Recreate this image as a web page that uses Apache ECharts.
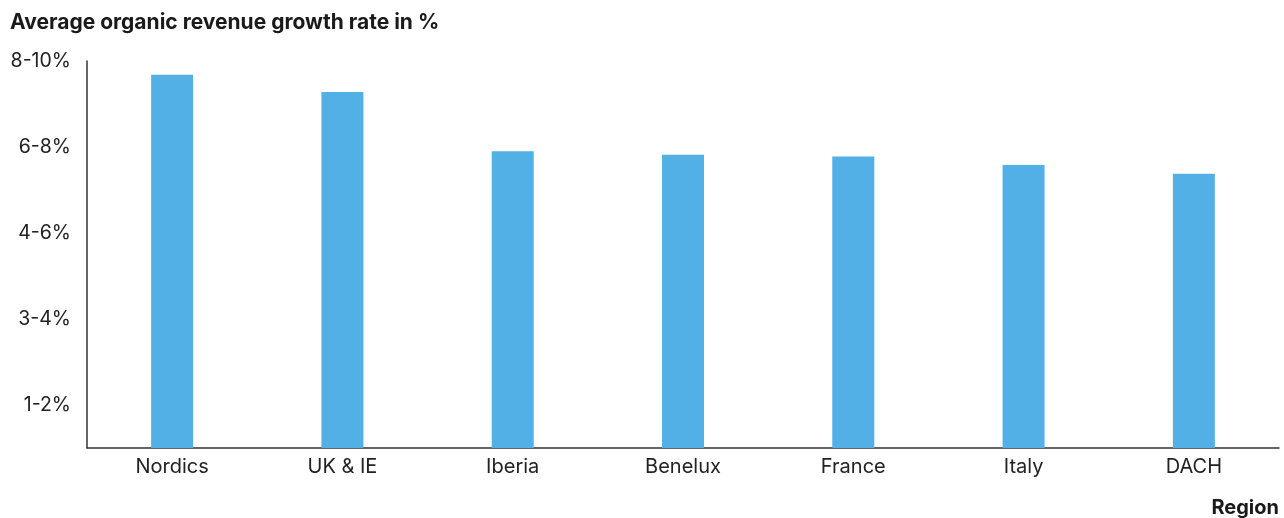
<!DOCTYPE html>
<html>
<head>
<meta charset="utf-8">
<script src="https://cdn.jsdelivr.net/npm/echarts@6/dist/echarts.min.js"></script>
<style>
  html, body { margin: 0; padding: 0; background: #ffffff; }
  #chart { width: 1284px; height: 518px; }
</style>
</head>
<body>
<div id="chart"></div>
<script>
// Regions and their average organic revenue growth (bucket scale: 0.5 = 1-2%, 1.5 = 3-4%, ...)
const regions = ['Nordics', 'UK & IE', 'Iberia', 'Benelux', 'France', 'Italy', 'DACH'];
const growth = [4.34, 4.14, 3.45, 3.41, 3.39, 3.29, 3.19];
const bucketTicks = [0.5, 1.5, 2.5, 3.5, 4.5];
const bucketLabels = ['1-2%', '3-4%', '4-6%', '6-8%', '8-10%'];

const FONT = 'Inter, "Noto Sans", sans-serif';
const chart = echarts.init(document.getElementById('chart'), null, { renderer: 'canvas' });

chart.setOption({
  animation: false,
  backgroundColor: '#ffffff',
  title: [
    {
      text: 'Average organic revenue growth rate in %',
      left: 10, top: 12, padding: 0,
      textStyle: { fontFamily: FONT, fontSize: 21, fontWeight: 'bold', color: '#1a1a1a' }
    },
    {
      text: 'Region',
      right: 5, top: 498, padding: 0,
      textStyle: { fontFamily: FONT, fontSize: 20, fontWeight: 'bold', color: '#1a1a1a' }
    }
  ],
  grid: { left: 87, right: 5, top: 61, bottom: 70, containLabel: false },
  xAxis: {
    type: 'category',
    data: regions,
    axisLine: { show: true, lineStyle: { color: '#333333', width: 1.5 } },
    axisTick: { show: false },
    axisLabel: { fontFamily: FONT, fontSize: 20, color: '#222222', margin: 9 }
  },
  yAxis: {
    type: 'value',
    min: 0,
    max: 4.5,
    interval: 0.5,
    splitLine: { show: false },
    axisTick: { show: false },
    axisLine: { show: true, lineStyle: { color: '#333333', width: 1.5 } },
    axisLabel: {
      fontFamily: FONT, fontSize: 19.5, color: '#222222', margin: 16,
      formatter: function (v) {
        const i = bucketTicks.findIndex(t => Math.abs(t - v) < 1e-6);
        return i >= 0 ? bucketLabels[i] : '';
      }
    }
  },
  series: [{
    type: 'bar',
    data: growth,
    barWidth: 42,
    itemStyle: { color: '#52B0E6' }
  }]
});
</script>
</body>
</html>
